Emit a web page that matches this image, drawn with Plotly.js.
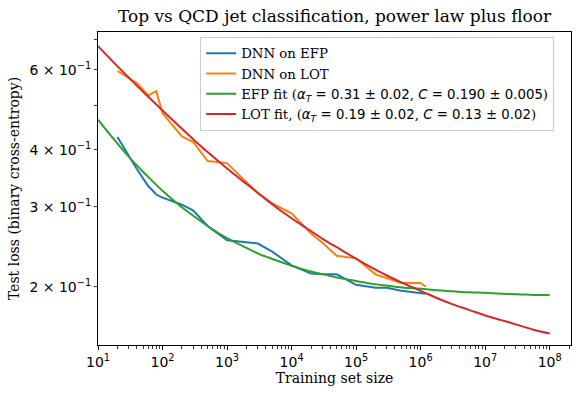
<!DOCTYPE html>
<html>
<head>
<meta charset="utf-8">
<script src="https://cdn.plot.ly/plotly-3.0.1.min.js"></script>
<style>
  html, body { margin: 0; padding: 0; background: white; }
  #plot { width: 582px; height: 399px; }
</style>
</head>
<body>
<div id="plot"></div>
<script>
// Training set sizes for the two DNN runs
let sizes = [20, 40, 60, 80, 100, 200, 300, 500, 1000, 3000, 5000, 1e4, 2e4, 3e4, 5e4, 1e5, 2e5, 3e5, 5e5, 1e6, 1.2e6]

// Test losses
let efpLoss = [0.427, 0.363, 0.333, 0.319, 0.314, 0.303, 0.294, 0.272, 0.253, 0.249, 0.239, 0.223, 0.214, 0.213, 0.213, 0.202, 0.199, 0.199, 0.196, 0.194, 0.193]
let lotLoss = [0.596, 0.561, 0.527, 0.538, 0.481, 0.428, 0.416, 0.378, 0.374, 0.321, 0.305, 0.290, 0.262, 0.250, 0.234, 0.231, 0.213, 0.209, 0.204, 0.204, 0.200]

// Fit curves, read every quarter decade
let fitSizes = [10, 17.8, 31.6, 56.2, 100, 178, 316, 562, 1000, 1780, 3160, 5620, 1e4, 17800, 31600, 56200,
                1e5, 178000, 316000, 562000, 1e6, 1.78e6, 3.16e6, 5.62e6, 1e7, 1.78e7, 3.16e7, 5.62e7, 1e8]
let efpFit = [0.466, 0.421, 0.383, 0.352, 0.325, 0.303, 0.285, 0.269, 0.256, 0.2455, 0.236, 0.229, 0.2225, 0.217, 0.213, 0.209,
              0.206, 0.203, 0.201, 0.199, 0.198, 0.1965, 0.1955, 0.1945, 0.194, 0.193, 0.1927, 0.192, 0.1918]
let lotFit = [0.676, 0.621, 0.572, 0.528, 0.488, 0.452, 0.419, 0.390, 0.364, 0.341, 0.320, 0.300, 0.283, 0.268, 0.254, 0.242,
              0.2305, 0.220, 0.211, 0.203, 0.196, 0.189, 0.183, 0.178, 0.173, 0.169, 0.165, 0.161, 0.158]

// Tick labels
let xTickVals = [10, 100, 1e3, 1e4, 1e5, 1e6, 1e7, 1e8]
let xTickText = ['10<sup>1</sup>', '10<sup>2</sup>', '10<sup>3</sup>', '10<sup>4</sup>', '10<sup>5</sup>', '10<sup>6</sup>', '10<sup>7</sup>', '10<sup>8</sup>']
let yTickVals = [0.2, 0.3, 0.4, 0.5, 0.6, 0.7]
let yTickText = ['2 × 10<sup>−1</sup>', '3 × 10<sup>−1</sup>', '4 × 10<sup>−1</sup>', '', '6 × 10<sup>−1</sup>', '']

// minor ticks on x: 2..9 in every decade
let xMinor = []
for (let d = 1; d <= 8; d++) {
    for (let m = 2; m <= 9; m++) {
        xMinor.push(m * Math.pow(10, d))
    }
}

let serif = 'DejaVu Serif, serif'
let sans = 'DejaVu Sans, sans-serif'

// math parts of the legend are set in the sans math font, like the ticks
function mathText(s) {
    return '<span style="font-family:DejaVu Sans">' + s + '</span>'
}

let trace1 = {
    x: sizes, y: efpLoss, name: 'DNN on EFP',
    type: 'scatter', mode: 'lines',
    line: {color: '#1f77b4', width: 2}
}
let trace2 = {
    x: sizes, y: lotLoss, name: 'DNN on LOT',
    type: 'scatter', mode: 'lines',
    line: {color: '#ff7f0e', width: 2}
}
let trace3 = {
    x: fitSizes, y: efpFit,
    name: 'EFP fit (' + mathText('<i>α</i><sub><i>T</i></sub> = 0.31 ± 0.02') + ', ' + mathText('<i>C</i> = 0.190 ± 0.005') + ')',
    type: 'scatter', mode: 'lines',
    line: {color: '#2ca02c', width: 2, shape: 'spline', smoothing: 1}
}
let trace4 = {
    x: fitSizes, y: lotFit,
    name: 'LOT fit, (' + mathText('<i>α</i><sub><i>T</i></sub> = 0.19 ± 0.02') + ', ' + mathText('<i>C</i> = 0.13 ± 0.02') + ')',
    type: 'scatter', mode: 'lines',
    line: {color: '#d62728', width: 2, shape: 'spline', smoothing: 1}
}

let layout = {
    width: 582,
    height: 399,
    margin: {l: 98, r: 11, t: 32, b: 54},
    paper_bgcolor: 'white',
    plot_bgcolor: 'white',
    font: {family: serif, size: 14, color: 'black'},
    title: {
        text: 'Top vs QCD jet classification, power law plus floor',
        font: {family: serif, size: 17, color: 'black'},
        xref: 'paper', x: 0.5, xanchor: 'center', y: 0.96, yanchor: 'middle'
    },
    xaxis: {
        type: 'log',
        range: [1, 8.33],
        title: {text: 'Training set size', font: {size: 14}, standoff: 4},
        tickvals: xTickVals,
        ticktext: xTickText,
        ticks: 'outside', ticklen: 4, tickwidth: 1, tickcolor: 'black',
        minor: {tickvals: xMinor, ticks: 'outside', ticklen: 2.5, tickwidth: 0.8, tickcolor: 'black', showgrid: false},
        showline: true, linecolor: 'black', linewidth: 1, mirror: true,
        showgrid: false, zeroline: false,
        tickfont: {family: sans, size: 14}
    },
    yaxis: {
        type: 'log',
        range: [Math.log10(0.149), Math.log10(0.726)],
        title: {text: 'Test loss (binary cross-entropy)', font: {size: 14}, standoff: 6},
        tickvals: yTickVals,
        ticktext: yTickText,
        ticks: 'outside', ticklen: 3, tickwidth: 0.8, tickcolor: 'black',
        showline: true, linecolor: 'black', linewidth: 1, mirror: true,
        showgrid: false, zeroline: false,
        tickfont: {family: sans, size: 14}
    },
    legend: {
        x: 0.216, y: 0.984, xanchor: 'left', yanchor: 'top',
        bgcolor: 'rgba(255,255,255,0.8)',
        bordercolor: '#cccccc', borderwidth: 1,
        font: {family: serif, size: 13.3, color: 'black'}
    },
    showlegend: true
}

Plotly.newPlot('plot', [trace1, trace2, trace3, trace4], layout, {displayModeBar: false, staticPlot: true})
</script>
</body>
</html>
